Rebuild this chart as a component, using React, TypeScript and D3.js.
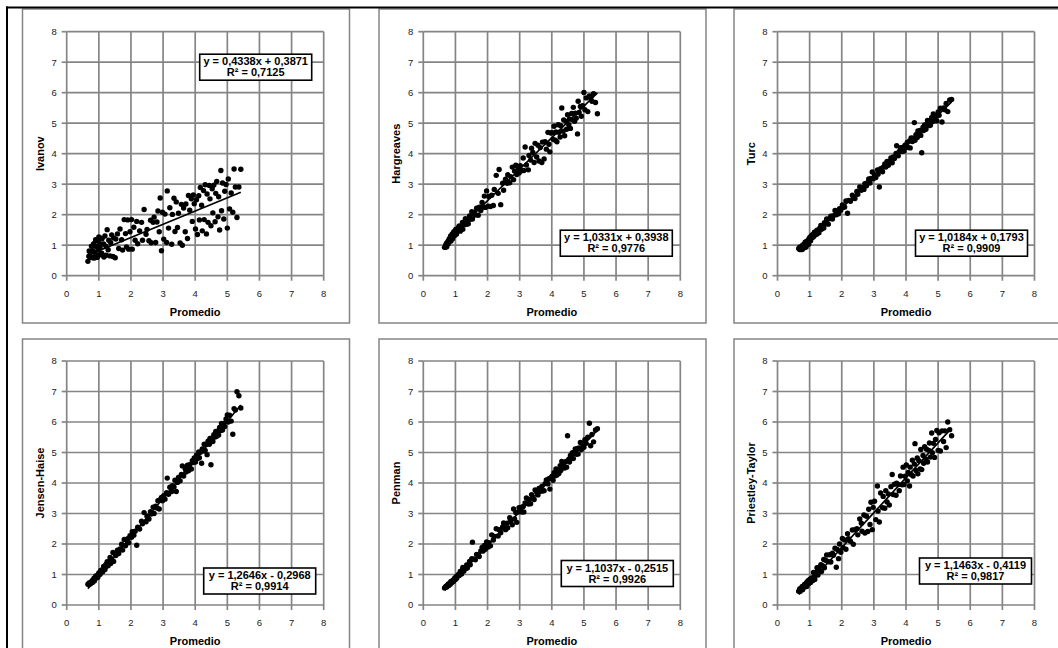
import * as d3 from "d3";

// Promedio (x axis, shared by all six panels)
const promedio = [
  0.66, 0.69, 0.70, 0.73, 0.74, 0.77, 0.78, 0.80, 0.81, 0.84, 0.85, 0.86, 0.89, 0.90, 0.91, 0.94, 0.95, 0.97, 0.98, 1.00, 1.01, 1.03, 1.04, 1.06, 1.09,
  1.10, 1.12, 1.15, 1.16, 1.19, 1.22, 1.23, 1.26, 1.29, 1.31, 1.35, 1.37, 1.40, 1.44, 1.46, 1.51, 1.53, 1.58, 1.62, 1.66, 1.71, 1.74, 1.79, 1.83, 1.86,
  1.90, 1.93, 1.97, 2.02, 2.04, 2.09, 2.13, 2.18, 2.21, 2.27, 2.33, 2.36, 2.41, 2.47, 2.50, 2.56, 2.61, 2.63, 2.69, 2.72, 2.77, 2.81, 2.84, 2.88, 2.91, 2.95, 2.98,
  3.02, 3.06, 3.11, 3.13, 3.17, 3.21, 3.27, 3.29, 3.34, 3.37, 3.41, 3.45, 3.48, 3.53, 3.57, 3.60, 3.64, 3.69, 3.71, 3.76, 3.79, 3.83, 3.88, 3.91, 3.94, 3.97,
  4.01, 4.04, 4.07, 4.11, 4.13, 4.16, 4.20, 4.22, 4.26, 4.28, 4.31, 4.35, 4.37, 4.40, 4.44, 4.46, 4.49, 4.53, 4.55, 4.58, 4.62, 4.64, 4.67, 4.71, 4.73, 4.76,
  4.80, 4.82, 4.85, 4.89, 4.92, 4.96, 5.00, 5.03, 5.07, 5.12, 5.17, 5.21, 5.25, 5.30, 5.36, 5.42,
];

const ivanov = [
  0.47, 0.64, 0.81, 0.60, 0.76, 0.97, 0.61, 0.83, 0.59, 1.05, 0.78, 0.58, 0.97, 1.18, 0.70, 0.95, 0.60, 1.14, 0.86, 1.27, 0.68, 1.05, 0.92, 1.23, 0.74,
  1.21, 0.67, 1.04, 0.61, 1.30, 0.97, 0.67, 1.51, 0.85, 1.16, 0.65, 1.08, 1.34, 0.63, 1.24, 0.59, 1.20, 1.37, 0.89, 1.53, 1.18, 0.84, 1.84, 1.38, 0.94,
  1.83, 0.87, 1.44, 1.84, 0.87, 1.59, 1.16, 1.78, 1.05, 1.47, 1.75, 1.16, 2.17, 1.36, 1.52, 1.15, 1.82, 1.08, 1.75, 1.92, 1.09, 1.76, 2.12, 1.44, 2.55, 0.82, 2.08,
  1.20, 2.02, 1.09, 2.78, 1.56, 2.23, 1.03, 2.01, 2.54, 1.45, 2.42, 1.58, 2.05, 1.07, 2.34, 1.00, 2.22, 1.44, 2.35, 1.22, 2.63, 2.15, 2.52, 1.78, 2.65, 2.36,
  1.53, 2.49, 1.35, 2.62, 1.83, 2.89, 2.31, 1.47, 2.79, 1.84, 2.98, 1.37, 2.68, 1.75, 2.96, 2.52, 1.64, 2.85, 2.06, 2.97, 1.77, 2.70, 3.09, 1.93, 2.59, 1.50,
  3.45, 2.13, 3.04, 1.86, 2.77, 2.99, 1.56, 3.17, 2.19, 2.71, 2.08, 3.50, 2.91, 1.91, 2.91, 3.49,
];

const hargreaves = [
  0.93, 0.93, 1.02, 0.95, 1.08, 1.04, 1.15, 1.10, 1.21, 1.16, 1.30, 1.14, 1.25, 1.37, 1.21, 1.34, 1.44, 1.31, 1.43, 1.39, 1.52, 1.36, 1.51, 1.47, 1.58,
  1.48, 1.63, 1.46, 1.61, 1.54, 1.75, 1.52, 1.75, 1.67, 1.87, 1.69, 1.84, 1.70, 1.96, 1.85, 2.10, 1.86, 2.07, 1.99, 2.21, 1.98, 2.25, 2.14, 2.40, 2.26,
  2.61, 2.24, 2.78, 2.28, 2.60, 2.27, 2.64, 2.30, 2.83, 3.29, 2.70, 3.48, 2.33, 3.03, 2.80, 3.16, 3.03, 3.31, 3.05, 3.25, 3.56, 3.15, 3.43, 3.62, 3.32, 3.50, 3.37,
  3.61, 3.44, 3.86, 3.45, 4.22, 3.63, 3.47, 3.94, 3.79, 4.18, 4.04, 3.71, 4.34, 3.89, 4.28, 3.76, 4.20, 3.71, 4.38, 3.83, 4.39, 4.15, 4.70, 4.31, 4.06, 4.68,
  4.69, 4.47, 4.90, 4.44, 4.71, 4.39, 4.95, 4.70, 4.55, 4.92, 5.50, 4.74, 5.11, 4.59, 5.06, 4.80, 5.28, 4.95, 5.14, 4.83, 5.32, 5.11, 5.52, 5.06, 5.33, 5.16,
  4.65, 5.72, 5.35, 5.55, 5.23, 5.57, 6.01, 5.44, 5.83, 5.38, 5.89, 5.83, 5.72, 5.97, 5.68, 5.31,
];

const turc = [
  0.89, 0.86, 0.94, 0.86, 0.93, 0.86, 1.00, 0.91, 1.02, 0.92, 1.02, 1.10, 0.94, 1.05, 1.13, 1.05, 1.14, 1.03, 1.21, 1.14, 1.26, 1.15, 1.24, 1.32, 1.25,
  1.35, 1.28, 1.43, 1.33, 1.41, 1.36, 1.49, 1.46, 1.41, 1.55, 1.65, 1.52, 1.64, 1.56, 1.74, 1.70, 1.86, 1.69, 1.87, 1.95, 1.86, 1.97, 2.14, 2.00, 2.12,
  2.03, 2.20, 2.15, 2.32, 2.24, 2.25, 2.45, 2.05, 2.47, 2.44, 2.64, 2.55, 2.53, 2.76, 2.67, 2.91, 2.80, 2.89, 2.83, 3.02, 2.95, 3.06, 3.17, 3.04, 3.19, 3.40, 3.18,
  3.31, 3.22, 3.47, 3.33, 2.91, 3.51, 3.41, 3.56, 3.66, 3.56, 3.75, 3.62, 3.74, 3.86, 3.70, 3.89, 3.84, 4.01, 4.26, 3.93, 4.07, 4.20, 4.07, 4.21, 4.09, 4.28,
  4.21, 4.37, 4.20, 4.42, 4.19, 4.52, 4.40, 4.51, 5.02, 4.44, 4.62, 4.53, 4.75, 4.62, 4.76, 4.60, 4.03, 4.87, 4.76, 4.94, 4.80, 4.95, 5.09, 4.92, 5.08, 4.93,
  5.19, 5.05, 5.30, 5.08, 5.24, 5.08, 5.37, 5.26, 5.49, 5.04, 5.50, 5.44, 5.65, 5.38, 5.76, 5.78,
];

const jensenHaise = [
  0.68, 0.68, 0.72, 0.69, 0.74, 0.73, 0.78, 0.74, 0.81, 0.81, 0.88, 0.79, 0.90, 0.87, 0.95, 0.90, 0.96, 0.91, 0.99, 1.05, 1.00, 1.07, 1.01, 1.13, 1.11,
  1.15, 1.09, 1.26, 1.19, 1.16, 1.33, 1.26, 1.42, 1.29, 1.41, 1.56, 1.36, 1.50, 1.72, 1.43, 1.67, 1.62, 1.80, 1.69, 1.84, 1.99, 1.80, 2.15, 1.94, 2.13,
  2.17, 2.04, 2.27, 2.22, 2.40, 2.29, 2.42, 1.96, 2.55, 2.49, 2.75, 2.66, 3.03, 2.73, 2.91, 2.82, 3.06, 2.98, 3.21, 3.00, 3.24, 3.18, 3.42, 3.15, 3.45, 3.53, 3.42,
  3.58, 3.47, 3.68, 4.16, 3.63, 3.86, 3.72, 3.91, 3.87, 4.09, 3.72, 4.02, 4.18, 4.07, 4.28, 4.56, 4.23, 4.47, 4.36, 4.58, 4.40, 4.60, 4.46, 4.73, 4.67, 4.82,
  4.69, 4.91, 4.80, 5.02, 4.83, 5.01, 4.65, 5.12, 5.05, 5.27, 5.07, 5.26, 4.93, 5.37, 5.27, 5.46, 4.60, 5.48, 5.36, 5.58, 5.51, 5.69, 5.53, 5.71, 5.57, 5.82,
  5.72, 5.95, 5.74, 5.95, 5.85, 6.10, 6.23, 6.00, 6.22, 6.03, 5.60, 6.44, 6.39, 6.99, 6.86, 6.46,
];

const penman = [
  0.56, 0.57, 0.61, 0.59, 0.64, 0.63, 0.69, 0.65, 0.70, 0.68, 0.74, 0.77, 0.74, 0.79, 0.78, 0.77, 0.84, 0.83, 0.89, 0.84, 0.89, 0.94, 0.88, 0.94, 0.99,
  1.00, 0.97, 1.10, 1.04, 1.02, 1.16, 1.23, 1.11, 1.22, 1.19, 1.31, 1.21, 1.32, 1.43, 1.32, 1.52, 2.06, 1.51, 1.48, 1.66, 1.64, 1.59, 1.77, 1.89, 1.77,
  1.95, 1.83, 2.07, 1.90, 2.04, 1.94, 2.30, 2.13, 2.25, 2.50, 2.26, 2.47, 2.37, 2.56, 2.69, 2.47, 2.68, 2.53, 2.86, 2.77, 2.63, 3.15, 2.82, 3.03, 2.71, 3.05, 3.19,
  3.20, 3.05, 3.23, 3.05, 3.35, 3.51, 3.31, 3.46, 3.32, 3.62, 3.53, 3.46, 3.77, 3.70, 3.61, 3.82, 3.73, 3.89, 3.74, 3.75, 3.98, 4.10, 3.97, 4.14, 3.80, 4.17,
  4.22, 4.09, 4.34, 4.24, 4.46, 4.26, 4.42, 4.31, 4.57, 4.41, 4.71, 4.51, 4.65, 4.49, 4.71, 4.52, 5.55, 4.78, 4.69, 4.90, 4.80, 4.99, 4.80, 4.99, 5.12, 4.94,
  5.13, 4.95, 5.15, 5.33, 5.10, 5.28, 5.17, 5.42, 5.30, 5.50, 5.96, 5.22, 5.59, 5.35, 5.74, 5.78,
];

const priestleyTaylor = [
  0.45, 0.53, 0.44, 0.55, 0.52, 0.61, 0.50, 0.61, 0.58, 0.67, 0.59, 0.66, 0.66, 0.73, 0.61, 0.74, 0.80, 0.70, 0.79, 0.77, 0.85, 0.74, 0.84, 0.89, 0.85,
  0.80, 1.07, 0.93, 0.84, 1.07, 1.03, 1.22, 0.98, 1.22, 1.09, 1.32, 1.10, 1.29, 1.49, 1.22, 1.46, 1.64, 1.42, 1.65, 1.41, 1.70, 1.63, 1.86, 1.24, 1.82,
  1.52, 2.00, 1.73, 2.18, 1.88, 2.13, 1.83, 2.34, 2.17, 2.09, 2.46, 1.99, 2.47, 2.50, 2.30, 2.82, 2.68, 2.42, 2.95, 2.36, 2.91, 2.41, 3.14, 2.64, 3.37, 2.47, 3.20,
  3.40, 2.80, 3.90, 3.08, 2.72, 3.67, 3.19, 3.56, 3.17, 3.75, 3.38, 3.64, 3.28, 3.88, 4.28, 3.62, 3.96, 3.60, 3.99, 3.95, 3.75, 4.23, 3.94, 4.52, 3.95, 4.22,
  4.59, 4.07, 4.35, 3.90, 4.52, 4.28, 4.75, 4.23, 4.62, 5.29, 4.41, 4.82, 4.30, 4.73, 4.46, 5.10, 4.44, 4.90, 4.65, 5.19, 4.78, 5.11, 4.69, 5.07, 5.31, 4.85,
  5.64, 4.99, 5.30, 4.84, 5.43, 5.72, 5.07, 5.65, 5.05, 5.71, 5.36, 5.71, 5.16, 6.00, 5.75, 5.55,
];

const methodNames = ["Ivanov", "Hargreaves", "Turc", "Jensen-Haise", "Penman", "Priestley-Taylor"];
const methodValues = [ivanov, hargreaves, turc, jensenHaise, penman, priestleyTaylor];
const slopes = [0.4338, 1.0331, 1.0184, 1.2646, 1.1037, 1.1463];
const intercepts = [0.3871, 0.3938, 0.1793, -0.2968, -0.2515, -0.4119];
const equationLabels = [
  "y = 0,4338x + 0,3871",
  "y = 1,0331x + 0,3938",
  "y = 1,0184x + 0,1793",
  "y = 1,2646x - 0,2968",
  "y = 1,1037x - 0,2515",
  "y = 1,1463x - 0,4119",
];
const r2Labels = ["R² = 0,7125", "R² = 0,9776", "R² = 0,9909", "R² = 0,9914", "R² = 0,9926", "R² = 0,9817"];
const axisTicks = [0, 1, 2, 3, 4, 5, 6, 7, 8];
const xTitle = "Promedio";

// layout
const W = 1058;
const H = 648;
const PLOT_LEFT = [66.7, 423.3, 777.5];
const PLOT_TOP = [31.7, 361];
const PLOT_W = 257;
const PLOT_H = 244;
const PANEL_LEFT = [22.5, 379, 734];
const PANEL_TOP = [9, 339];
const PANEL_W = 327;
const PANEL_H = 314;
// equation box offsets from plot top-left, px
const BOX_POS = [[133, 22.5], [137, 198.5], [138, 198.5], [137, 207], [138, 199.5], [142, 197]];
const BOX_W = 112;
const BOX_H = 26;

const FONT = "'Liberation Sans', Arial, sans-serif";
const GRID = "#858585";

const x = d3.scaleLinear().domain([0, 8]).range([0, PLOT_W]);
const y = d3.scaleLinear().domain([0, 8]).range([PLOT_H, 0]);

function Panel({ i }: { i: number }) {
  const col = i % 3;
  const row = Math.floor(i / 3);
  const px = PLOT_LEFT[col];
  const py = PLOT_TOP[row];
  const vals = methodValues[i];
  const xExt = d3.extent(promedio) as [number, number];
  const trend = d3.line<number>()
    .x((d) => x(d))
    .y((d) => y(slopes[i] * d + intercepts[i]))(xExt);
  const [bx, by] = BOX_POS[i];

  return (
    <g>
      <rect x={PANEL_LEFT[col]} y={PANEL_TOP[row]} width={PANEL_W} height={PANEL_H}
        fill="white" stroke={GRID} strokeWidth={1.5} />
      <g transform={`translate(${px},${py})`}>
        {axisTicks.map((t) => (
          <g key={"g" + t}>
            <line x1={x(t)} x2={x(t)} y1={0} y2={PLOT_H} stroke={GRID} strokeWidth={1.7} />
            <line x1={0} x2={PLOT_W} y1={y(t)} y2={y(t)} stroke={GRID} strokeWidth={1.7} />
            <line x1={-5} x2={0} y1={y(t)} y2={y(t)} stroke={GRID} strokeWidth={1.7} />
            <line x1={x(t)} x2={x(t)} y1={PLOT_H} y2={PLOT_H + 5} stroke={GRID} strokeWidth={1.7} />
            <text x={-10} y={y(t)} dy="0.35em" textAnchor="end" fontSize={9.5} fill="#222" fontFamily={FONT}>{t}</text>
            <text x={x(t)} y={PLOT_H + 21} textAnchor="middle" fontSize={9.5} fill="#222" fontFamily={FONT}>{t}</text>
          </g>
        ))}
        {promedio.map((d, k) => (
          <circle key={k} cx={x(d)} cy={y(vals[k])} r={2.7} fill="#000" />
        ))}
        <path d={trend ?? ""} stroke="#000" strokeWidth={1.7} fill="none" />
        <g transform={`translate(${bx},${by})`}>
          <rect width={BOX_W} height={BOX_H} fill="white" stroke="#000" strokeWidth={1.6} />
          <text x={BOX_W / 2} y={11} textAnchor="middle" fontSize={11} fontWeight="bold" fontFamily={FONT}>{equationLabels[i]}</text>
          <text x={BOX_W / 2} y={22} textAnchor="middle" fontSize={11} fontWeight="bold" fontFamily={FONT}>{r2Labels[i]}</text>
        </g>
        <text x={PLOT_W / 2} y={PLOT_H + 40} textAnchor="middle" fontSize={11} fontWeight="bold" fontFamily={FONT}>{xTitle}</text>
        <text transform={`translate(${-23},${PLOT_H / 2}) rotate(-90)`} textAnchor="middle" fontSize={11}
          fontWeight="bold" fontFamily={FONT}>{methodNames[i]}</text>
      </g>
    </g>
  );
}

export default function App() {
  return (
    <svg width={W} height={H} style={{ position: "absolute", left: 0, top: 0, background: "white" }}>
      <rect width={W} height={H} fill="white" />
      {methodNames.map((_, i) => <Panel key={i} i={i} />)}
      <line x1={6} x2={W} y1={7.5} y2={7.5} stroke="#000" strokeWidth={2} />
      <line x1={7} x2={7} y1={6.5} y2={H} stroke="#000" strokeWidth={2} />
    </svg>
  );
}
